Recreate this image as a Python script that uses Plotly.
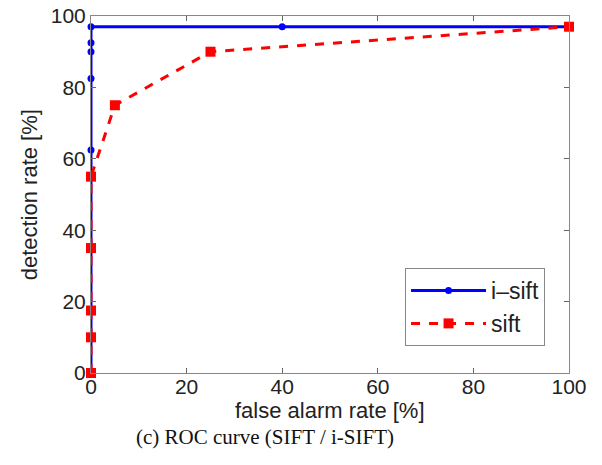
import plotly.graph_objects as go

isift_x = [0, 0, 0, 0, 0, 0, 40, 100]
isift_y = [0, 62.5, 82.5, 90, 92.5, 97, 97, 97]
sift_x = [0, 0, 0, 0, 0, 5, 25, 100]
sift_y = [0, 10, 17.5, 35, 55, 75, 90, 97]
ticks = [0, 20, 40, 60, 80, 100]

SANS = "Liberation Sans, Arial"
fig = go.Figure()
fig.add_trace(go.Scatter(x=isift_x, y=isift_y, mode="lines+markers", name="i\u2013sift",
                         line=dict(color="#0000ff", width=3),
                         marker=dict(symbol="circle", size=7, color="#0000ff"),
                         cliponaxis=False))
fig.add_trace(go.Scatter(x=sift_x, y=sift_y, mode="lines+markers", name="sift",
                         line=dict(color="#ff0000", width=3, dash="dash"),
                         marker=dict(symbol="square", size=10, color="#ff0000"),
                         cliponaxis=False))

axis_common = dict(range=[0, 100], tickvals=ticks, ticks="inside", ticklen=5,
                   tickcolor="#666", showgrid=False, zeroline=False, automargin=False,
                   showline=True, linecolor="#888", linewidth=1, mirror="ticks",
                   tickfont=dict(family=SANS, size=21, color="#222"))

fig.update_layout(
    width=602, height=465,
    margin=dict(l=91, r=33, t=16, b=92),
    paper_bgcolor="white", plot_bgcolor="white",
    showlegend=True,
    legend=dict(x=0.657, y=0.294, xanchor="left", yanchor="top",
                bordercolor="#888", borderwidth=1, bgcolor="white",
                font=dict(family=SANS, size=23, color="#222"),
                itemwidth=75),
    xaxis=dict(ticklabelstandoff=-5, **axis_common),
    yaxis=dict(**axis_common),
    annotations=[
        dict(text="false alarm rate [%]", xref="paper", yref="paper",
             x=0.5, y=-0.104, xanchor="center", yanchor="middle", showarrow=False,
             font=dict(family=SANS, size=22, color="#222")),
        dict(text="detection rate [%]", xref="paper", yref="paper", textangle=-90,
             x=-0.128, y=0.5, xanchor="center", yanchor="middle", showarrow=False,
             font=dict(family=SANS, size=22, color="#222")),
        dict(text="(c) ROC curve (SIFT / i-SIFT)", xref="paper", yref="paper",
             x=0.364, y=-0.179, xanchor="center", yanchor="middle", showarrow=False,
             font=dict(family="Liberation Serif, Times New Roman", size=21, color="#111")),
    ]
)

fig.write_html("out.html", config={"displayModeBar": False},
               post_script="document.body.style.margin='0px';")
